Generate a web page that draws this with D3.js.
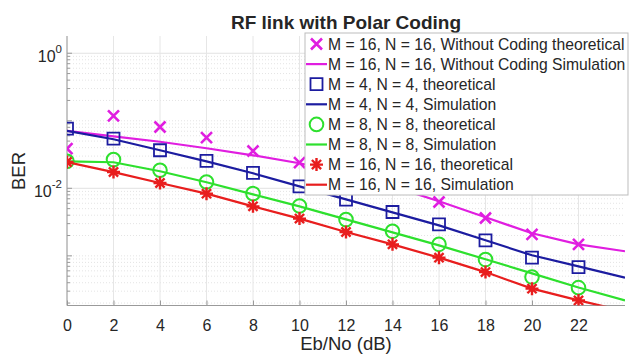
<!DOCTYPE html>
<html>
<head>
<meta charset="utf-8">
<script src="https://cdn.jsdelivr.net/npm/d3@7"></script>
<style>
  body { margin: 0; background: #fff; }
  text { font-family: "Liberation Sans", Arial, sans-serif; fill: #262626; }
</style>
</head>
<body>
<svg id="chart" width="631" height="354"></svg>
<script>
// Eb/No points (dB)
var ebno = [0, 2, 4, 6, 8, 10, 12, 14, 16, 18, 20, 22];
var ebnoSim = [0, 2, 4, 6, 8, 10, 12, 14, 16, 18, 20, 22, 24];

// BER values
var uncodedTheory = [0.0387, 0.118, 0.0809, 0.0563, 0.0357, 0.0240, 0.0161, 0.0104, 0.00627, 0.00363, 0.00208, 0.00148];
var uncodedSim = [0.0711, 0.0589, 0.0489, 0.0392, 0.0308, 0.0235, 0.0167, 0.0107, 0.00642, 0.00372, 0.00216, 0.00148, 0.00117];
var m4Theory = [0.0766, 0.0545, 0.0366, 0.0254, 0.0169, 0.0107, 0.00680, 0.00446, 0.00293, 0.00170, 0.00094, 0.00068];
var m4Sim = [0.0711, 0.0532, 0.0366, 0.0251, 0.0167, 0.0107, 0.00687, 0.00441, 0.00283, 0.00170, 0.00102, 0.00070, 0.000475];
var m8Theory = [0.0251, 0.0266, 0.0185, 0.0124, 0.00834, 0.00547, 0.00344, 0.00231, 0.00148, 0.00088, 0.000485, 0.000338];
var m8Sim = [0.0251, 0.0243, 0.0179, 0.0123, 0.00815, 0.00541, 0.00347, 0.00223, 0.00143, 0.00089, 0.00055, 0.00034, 0.000219];
var m16Theory = [0.0245, 0.0174, 0.0120, 0.00834, 0.00541, 0.00356, 0.00225, 0.00148, 0.00094, 0.000575, 0.000327, 0.000219];
var m16Sim = [0.0245, 0.0174, 0.0120, 0.00834, 0.00541, 0.00356, 0.00225, 0.00148, 0.00094, 0.000575, 0.000327, 0.000219, 0.000151];

var legendLabels = [
    "M = 16, N = 16, Without Coding theoretical",
    "M = 16, N = 16, Without Coding Simulation",
    "M = 4, N = 4, theoretical",
    "M = 4, N = 4, Simulation",
    "M = 8, N = 8, theoretical",
    "M = 8, N = 8, Simulation",
    "M = 16, N = 16, theoretical",
    "M = 16, N = 16, Simulation"
];

var xTicks = [0, 2, 4, 6, 8, 10, 12, 14, 16, 18, 20, 22];
var yTickExps = [0, -2];

// series in plotting order (same as legend)
var series = [
    {x: ebno, y: uncodedTheory, color: "#e01ee0", marker: "x"},
    {x: ebnoSim, y: uncodedSim, color: "#e01ee0", marker: null},
    {x: ebno, y: m4Theory, color: "#1c1ca0", marker: "square"},
    {x: ebnoSim, y: m4Sim, color: "#1c1ca0", marker: null},
    {x: ebno, y: m8Theory, color: "#2ee02e", marker: "circle"},
    {x: ebnoSim, y: m8Sim, color: "#2ee02e", marker: null},
    {x: ebno, y: m16Theory, color: "#e81e1e", marker: "star"},
    {x: ebnoSim, y: m16Sim, color: "#e81e1e", marker: null}
];

var svg = d3.select("#chart");
var axLeft = 67, axRight = 625, axTop = 36, axBottom = 305.5;

var x = d3.scaleLinear().domain([0, 24]).range([axLeft, axRight]);
var y = d3.scaleLog().domain([1.84e-4, 1.80]).range([axBottom, axTop]);

// marker shapes
function markerPath(type, s) {
    var h = s / 2;
    if (type === "x") {
        return "M" + (-h) + "," + (-h) + "L" + h + "," + h + "M" + (-h) + "," + h + "L" + h + "," + (-h);
    }
    if (type === "square") {
        return "M" + (-h) + "," + (-h) + "H" + h + "V" + h + "H" + (-h) + "Z";
    }
    if (type === "star") {
        var p = "";
        for (var i = 0; i < 4; i++) {
            var a = i * Math.PI / 4;
            p += "M" + (-h * Math.cos(a)) + "," + (-h * Math.sin(a)) + "L" + (h * Math.cos(a)) + "," + (h * Math.sin(a));
        }
        return p;
    }
    return "";
}

function drawMarker(g, type, color, cx, cy) {
    if (type === "circle") {
        g.append("circle").attr("cx", cx).attr("cy", cy).attr("r", 6.8)
            .attr("fill", "none").attr("stroke", color).attr("stroke-width", 2);
    } else if (type === "x") {
        g.append("path").attr("transform", "translate(" + [cx, cy] + ")")
            .attr("d", markerPath("x", 11)).attr("fill", "none")
            .attr("stroke", color).attr("stroke-width", 2.6);
    } else if (type === "square") {
        g.append("path").attr("transform", "translate(" + [cx, cy] + ")")
            .attr("d", markerPath("square", 12)).attr("fill", "none")
            .attr("stroke", color).attr("stroke-width", 1.8);
    } else if (type === "star") {
        g.append("path").attr("transform", "translate(" + [cx, cy] + ")")
            .attr("d", markerPath("star", 13)).attr("fill", "none")
            .attr("stroke", color).attr("stroke-width", 2.4);
    }
}

// clip
svg.append("defs").append("clipPath").attr("id", "clip")
    .append("rect").attr("x", axLeft).attr("y", axTop)
    .attr("width", axRight - axLeft).attr("height", axBottom - axTop);

function isDecade(v) {
    return Math.abs(Math.log10(v) - Math.round(Math.log10(v))) < 1e-6;
}

// grid
var grid = svg.append("g");
var minorVals = [];
for (var e = -4; e <= 0; e++) {
    for (var m = 1; m <= 9; m++) {
        var v = m * Math.pow(10, e);
        if (v > y.domain()[0] && v < y.domain()[1]) minorVals.push(v);
    }
}
grid.selectAll(".minor").data(minorVals.filter(function (v) {
        return !(isDecade(v) && yTickExps.indexOf(Math.round(Math.log10(v))) >= 0);
    }))
    .enter().append("line")
    .attr("x1", axLeft).attr("x2", axRight)
    .attr("y1", function (d) { return y(d); }).attr("y2", function (d) { return y(d); })
    .attr("stroke", "#e4e4e4").attr("stroke-width", 1).attr("stroke-dasharray", "1,2");
grid.selectAll(".major").data(yTickExps).enter().append("line")
    .attr("x1", axLeft).attr("x2", axRight)
    .attr("y1", function (d) { return y(Math.pow(10, d)); })
    .attr("y2", function (d) { return y(Math.pow(10, d)); })
    .attr("stroke", "#e2e2e2").attr("stroke-width", 1);
grid.selectAll(".xg").data(xTicks).enter().append("line")
    .attr("x1", function (d) { return x(d); }).attr("x2", function (d) { return x(d); })
    .attr("y1", axTop).attr("y2", axBottom)
    .attr("stroke", "#e6e6e6").attr("stroke-width", 1);

// axes
var xAxis = d3.axisBottom(x).tickValues(xTicks).tickSizeInner(-5).tickSizeOuter(0).tickPadding(14);
var gx = svg.append("g").attr("transform", "translate(0," + axBottom + ")").call(xAxis);
gx.select(".domain").attr("stroke", "#9a9a9a").attr("d", "M" + axLeft + ",0H" + axRight);
gx.selectAll(".tick line").attr("stroke", "#9a9a9a");
gx.selectAll(".tick text").attr("font-size", 16).attr("fill", "#262626")
    .style("font-family", "'Liberation Sans', Arial, sans-serif");

var gy = svg.append("g");
gy.append("line").attr("x1", axLeft).attr("x2", axLeft).attr("y1", axTop).attr("y2", axBottom)
    .attr("stroke", "#9a9a9a");
gy.selectAll(".ymin").data(minorVals).enter().append("line")
    .attr("x1", axLeft).attr("x2", function (d) { return isDecade(d) ? axLeft + 5 : axLeft + 3; })
    .attr("y1", function (d) { return y(d); }).attr("y2", function (d) { return y(d); })
    .attr("stroke", "#9a9a9a");
var ylab = gy.selectAll(".ylab").data(yTickExps).enter().append("text")
    .attr("x", 62).attr("y", function (d) { return y(Math.pow(10, d)) + 9; })
    .attr("text-anchor", "end").attr("font-size", 16);
ylab.append("tspan").text("10");
ylab.append("tspan").attr("dy", -9).attr("font-size", 11.5).text(function (d) { return d; });

// data
var plot = svg.append("g").attr("clip-path", "url(#clip)");
var line = d3.line()
    .x(function (d) { return x(d[0]); })
    .y(function (d) { return y(d[1]); });

series.forEach(function (s) {
    var pts = s.x.map(function (xv, i) { return [xv, s.y[i]]; });
    if (s.marker) {
        var mg = plot.append("g");
        pts.forEach(function (p) { drawMarker(mg, s.marker, s.color, x(p[0]), y(p[1])); });
    } else {
        plot.append("path").datum(pts).attr("d", line)
            .attr("fill", "none").attr("stroke", s.color).attr("stroke-width", 2.2);
    }
});

// title and labels
svg.append("text").attr("x", (axLeft + axRight) / 2).attr("y", 28.5)
    .attr("text-anchor", "middle").attr("font-size", 19).attr("font-weight", "bold")
    .attr("fill", "#000").text("RF link with Polar Coding");
svg.append("text").attr("x", (axLeft + axRight) / 2).attr("y", 350)
    .attr("text-anchor", "middle").attr("font-size", 18.5).text("Eb/No (dB)");
svg.append("text").attr("transform", "translate(25,171) rotate(-90)")
    .attr("text-anchor", "middle").attr("font-size", 18.5).text("BER");

// legend
var lg = svg.append("g");
var lx = 305, ly = 33, lw = 323, rowH = 20.1;
lg.append("rect").attr("x", lx).attr("y", ly).attr("width", lw).attr("height", 162)
    .attr("fill", "#fff").attr("stroke", "#bdbdbd").attr("stroke-width", 1);
legendLabels.forEach(function (label, i) {
    var s = series[i];
    var cy = ly + 11 + i * rowH;
    if (s.marker) {
        drawMarker(lg, s.marker, s.color, 316.5, cy);
    } else {
        lg.append("line").attr("x1", 306).attr("x2", 327).attr("y1", cy).attr("y2", cy)
            .attr("stroke", s.color).attr("stroke-width", 2.2);
    }
    lg.append("text").attr("x", 328).attr("y", cy + 5.6).attr("font-size", 15.7)
        .attr("fill", "#1a1a1a").text(label);
});
</script>
</body>
</html>
